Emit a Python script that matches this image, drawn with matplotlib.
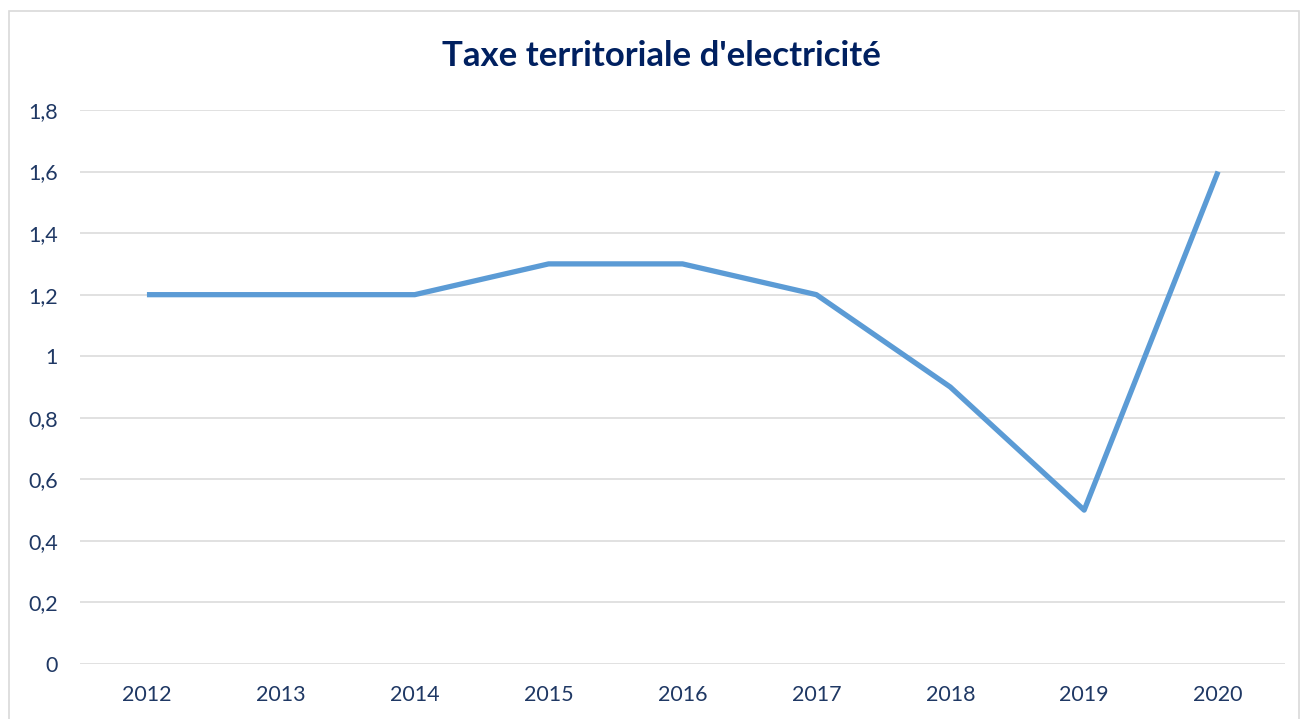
import matplotlib.pyplot as plt
from matplotlib.patches import Rectangle

# données
years = ['2012', '2013', '2014', '2015', '2016', '2017', '2018', '2019', '2020']
values = [1.2, 1.2, 1.2, 1.3, 1.3, 1.2, 0.9, 0.5, 1.6]
y_ticks = [0, 0.2, 0.4, 0.6, 0.8, 1.0, 1.2, 1.4, 1.6, 1.8]
y_labels = ['0', '0,2', '0,4', '0,6', '0,8', '1', '1,2', '1,4', '1,6', '1,8']

plt.rcParams['font.family'] = ['Lato', 'DejaVu Sans']

W, H = 1303, 719
fig = plt.figure(figsize=(W / 100, H / 100), dpi=100)

# cadre du graphique
fig.patches.append(Rectangle((9 / W, -0.01), (1299 - 9) / W, 1 - 11 / H + 0.01,
                             transform=fig.transFigure, fill=False,
                             edgecolor='#D9D9D9', linewidth=1.2))

ax = fig.add_axes([80 / W, 1 - 664 / H, (1285 - 80) / W, (664 - 110) / H])

x = list(range(len(years)))
ax.plot(x, values, color='#5B9BD5', linewidth=3.8, solid_capstyle='butt',
        solid_joinstyle='round', zorder=3)

ax.set_xlim(-0.5, len(years) - 0.5)
ax.set_ylim(0, 1.8)
ax.set_xticks(x)
ax.set_xticklabels(years)
ax.set_yticks(y_ticks)
ax.set_yticklabels(y_labels)
ax.grid(axis='y', color='#D9D9D9', linewidth=1.1)
ax.set_axisbelow(True)
for s in ax.spines.values():
    s.set_visible(False)
ax.tick_params(length=0, labelsize=15.5, labelcolor='#1F3864')
ax.tick_params(axis='x', pad=15)
ax.tick_params(axis='y', pad=16)

fig.text(0.508, 1 - 56 / H, "Taxe territoriale d'electricité", ha='center', va='center',
         fontsize=25, fontweight='bold', color='#002060')

fig.savefig('out.png', dpi=100)
